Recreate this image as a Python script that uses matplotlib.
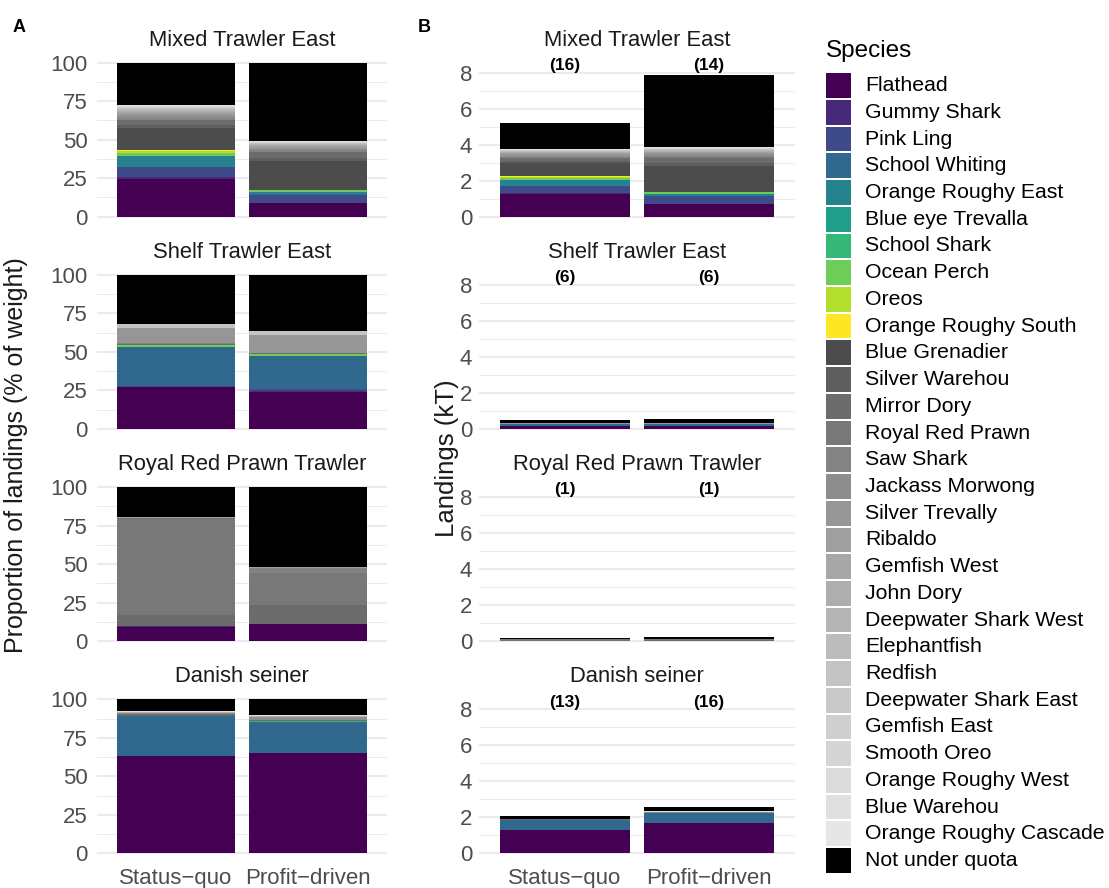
import matplotlib
matplotlib.use("Agg")
import matplotlib.pyplot as plt
from matplotlib.patches import Rectangle
import numpy as np

plt.rcParams["font.family"] = ["Liberation Sans", "DejaVu Sans"]

W, H = 1109, 888

species = [
    "Flathead", "Gummy Shark", "Pink Ling", "School Whiting", "Orange Roughy East",
    "Blue eye Trevalla", "School Shark", "Ocean Perch", "Oreos", "Orange Roughy South",
    "Blue Grenadier", "Silver Warehou", "Mirror Dory", "Royal Red Prawn", "Saw Shark",
    "Jackass Morwong", "Silver Trevally", "Ribaldo", "Gemfish West", "John Dory",
    "Deepwater Shark West", "Elephantfish", "Redfish", "Deepwater Shark East",
    "Gemfish East", "Smooth Oreo", "Orange Roughy West", "Blue Warehou",
    "Orange Roughy Cascade", "Not under quota",
]
fleets = ["Mixed Trawler East", "Shelf Trawler East", "Royal Red Prawn Trawler", "Danish seiner"]
scenarios = ["Status\u2212quo", "Profit\u2212driven"]

# share of landings (% of weight), one value per species in the order above
mte_sq = [24.7, 1.1, 6.5, 0.0, 7.1, 0.0, 0.0, 1.9, 1.1, 0.9,
          14.5, 1.7, 3.2, 0.4, 1.0, 1.2, 1.2, 1.0, 0.6, 0.8,
          0.4, 0.4, 0.6, 0.4, 0.4, 0.4, 0.2, 0.6, 0.2, 27.5]
mte_pd = [8.7, 0.4, 5.2, 0.2, 1.3, 0.2, 0.1, 1.1, 0.05, 0.05,
          18.8, 2.2, 3.4, 0.3, 1.0, 1.0, 0.8, 1.0, 0.3, 0.6,
          0.3, 0.3, 0.3, 0.3, 0.2, 0.3, 0.1, 0.5, 0.1, 50.9]
ste_sq = [26.9, 0.6, 0.1, 25.6, 0.0, 0.1, 0.1, 0.8, 0.0, 0.0,
          0.0, 0.2, 1.0, 0.0, 0.3, 0.2, 9.3, 0.0, 0.0, 0.2,
          0.0, 0.0, 2.5, 0.0, 0.1, 0.0, 0.0, 0.2, 0.0, 31.8]
ste_pd = [24.1, 0.3, 1.5, 21.5, 0.0, 0.1, 0.1, 0.8, 0.0, 0.0,
          0.0, 0.2, 0.5, 0.0, 0.2, 0.2, 11.2, 0.0, 0.0, 0.2,
          0.0, 0.0, 2.5, 0.0, 0.1, 0.0, 0.0, 0.2, 0.0, 36.3]
rrpt_sq = [9.0, 0.6, 0.3, 0.0, 0.0, 0.0, 0.0, 0.0, 0.0, 0.0,
           0.0, 0.0, 7.1, 62.8, 0.0, 0.0, 0.0, 0.6, 0.0, 0.5,
           0.0, 0.0, 0.0, 0.0, 0.0, 0.0, 0.0, 0.0, 0.0, 19.1]
rrpt_pd = [11.0, 0.0, 0.4, 0.0, 0.0, 0.0, 0.0, 0.0, 0.0, 0.0,
           0.0, 0.0, 12.3, 20.6, 3.0, 0.0, 0.0, 0.6, 0.0, 0.5,
           0.0, 0.0, 0.0, 0.0, 0.0, 0.0, 0.0, 0.0, 0.0, 51.6]
ds_sq = [62.9, 0.4, 0.0, 25.7, 0.0, 0.0, 0.0, 0.0, 0.0, 0.0,
         0.0, 0.0, 1.2, 0.0, 0.0, 0.6, 0.5, 0.0, 0.0, 0.4,
         0.0, 0.0, 0.3, 0.0, 0.0, 0.0, 0.0, 0.2, 0.0, 7.8]
ds_pd = [64.9, 0.3, 0.0, 20.1, 0.0, 0.0, 0.6, 0.0, 0.0, 0.0,
         0.0, 0.0, 0.8, 0.0, 0.0, 1.0, 0.8, 0.0, 0.0, 0.5,
         0.0, 0.0, 0.4, 0.0, 0.0, 0.0, 0.0, 0.2, 0.0, 10.4]

# total landings (kT) per scenario, and number of vessels
total_kt = {
    "Mixed Trawler East": [5.2, 7.85],
    "Shelf Trawler East": [0.5, 0.55],
    "Royal Red Prawn Trawler": [0.15, 0.2],
    "Danish seiner": [2.08, 2.59],
}
vessels = {
    "Mixed Trawler East": [16, 14],
    "Shelf Trawler East": [6, 6],
    "Royal Red Prawn Trawler": [1, 1],
    "Danish seiner": [13, 16],
}
shares = {
    "Mixed Trawler East": [mte_sq, mte_pd],
    "Shelf Trawler East": [ste_sq, ste_pd],
    "Royal Red Prawn Trawler": [rrpt_sq, rrpt_pd],
    "Danish seiner": [ds_sq, ds_pd],
}

# colours: viridis for the first ten, grey ramp for the rest, black for non-quota
viridis = ["#440154", "#482878", "#3E4A89", "#31688E", "#26828E",
           "#1F9E89", "#35B779", "#6DCD59", "#B4DE2C", "#FDE725"]
g = 2.2
lev = np.linspace(0.3 ** g, 0.9 ** g, 19) ** (1 / g)
greys = [matplotlib.colors.to_hex((v, v, v)) for v in lev]
colors = viridis + greys + ["#000000"]

GRID = "#EBEBEB"
TICK = "#4D4D4D"
INK = "#1A1A1A"

fig = plt.figure(figsize=(W / 100, H / 100), dpi=100)
fig.patch.set_facecolor("white")


def px_axes(x0, x1, y0, y1):
    return fig.add_axes([x0 / W, 1 - y1 / H, (x1 - x0) / W, (y1 - y0) / H])


def style(ax, major, minor, pad):
    ax.set_yticks(major)
    ax.set_yticks(minor, minor=True)
    ax.yaxis.grid(True, which="major", color=GRID, lw=1.4)
    ax.yaxis.grid(True, which="minor", color=GRID, lw=0.7)
    ax.set_axisbelow(True)
    for s in ax.spines.values():
        s.set_visible(False)
    ax.tick_params(axis="both", which="both", length=0, labelsize=16, labelcolor=TICK)
    ax.tick_params(axis="y", pad=pad)
    ax.set_xlim(0.4, 2.6)


xs = np.array([1, 2])
row_step = 212.2
for r, fleet in enumerate(fleets):
    top = 55.0 + r * row_step
    bot = 224.4 + r * row_step
    axA = px_axes(96.8, 387.2, top, bot)
    axB = px_axes(478.6, 795.4, top, bot)

    pct = np.array(shares[fleet])  # 2 x 30
    pct = pct / pct.sum(axis=1, keepdims=True) * 100
    kt = pct / 100 * np.array(total_kt[fleet])[:, None]

    baseA = np.zeros(2)
    baseB = np.zeros(2)
    for k, sp in enumerate(species):
        axA.bar(xs, pct[:, k], 0.9, bottom=baseA, color=colors[k], linewidth=0, zorder=2)
        axB.bar(xs, kt[:, k], 0.9, bottom=baseB, color=colors[k], linewidth=0, zorder=2)
        baseA += pct[:, k]
        baseB += kt[:, k]

    axA.set_ylim(-5, 105)
    style(axA, [0, 25, 50, 75, 100], [12.5, 37.5, 62.5, 87.5], 6.8)
    axB.set_ylim(-0.43, 8.98)
    style(axB, [0, 2, 4, 6, 8], [1, 3, 5, 7], 4.6)
    axB.set_yticklabels(["0", "2", "4", "6", "8"])

    for ax in (axA, axB):
        ax.set_xticks(xs)
        if r == len(fleets) - 1:
            ax.set_xticklabels(scenarios)
            ax.tick_params(axis="x", pad=5)
        else:
            ax.set_xticklabels([])

    for i in range(2):
        axB.text(xs[i], 8.4, f"({vessels[fleet][i]})", ha="center", va="center",
                 fontsize=12.5, fontweight="bold", color="black")

    fig.text(242 / W, 1 - (45.7 + r * row_step) / H, fleet, ha="center", va="baseline",
             fontsize=15.8, color=INK)
    fig.text(637 / W, 1 - (45.7 + r * row_step) / H, fleet, ha="center", va="baseline",
             fontsize=15.8, color=INK)

fig.text(16 / W, 1 - 455 / H, "Proportion of landings (% of weight)", rotation=90,
         ha="center", va="center", fontsize=18, color=INK)
fig.text(447 / W, 1 - 458 / H, "Landings (kT)", rotation=90,
         ha="center", va="center", fontsize=18.5, color=INK)

fig.text(13 / W, 1 - 32.3 / H, "A", fontsize=13, fontweight="bold", va="baseline")
fig.text(418 / W, 1 - 32.3 / H, "B", fontsize=13, fontweight="bold", va="baseline")

# legend drawn by hand so keys sit on the same grid as the reference
fig.text(826 / W, 1 - 57 / H, "Species", fontsize=17.5, color="black", va="baseline")
pitch = 26.72
for i, sp in enumerate(species):
    y0 = 73.3 + i * pitch
    fig.add_artist(Rectangle((826 / W, 1 - (y0 + 24.7) / H), 25 / W, 24.7 / H,
                             transform=fig.transFigure, facecolor=colors[i], edgecolor="none"))
    fig.text(865 / W, 1 - (y0 + 12.35) / H, sp, fontsize=15.3, color="black", va="center")

fig.savefig("out.png", dpi=100, facecolor="white")
